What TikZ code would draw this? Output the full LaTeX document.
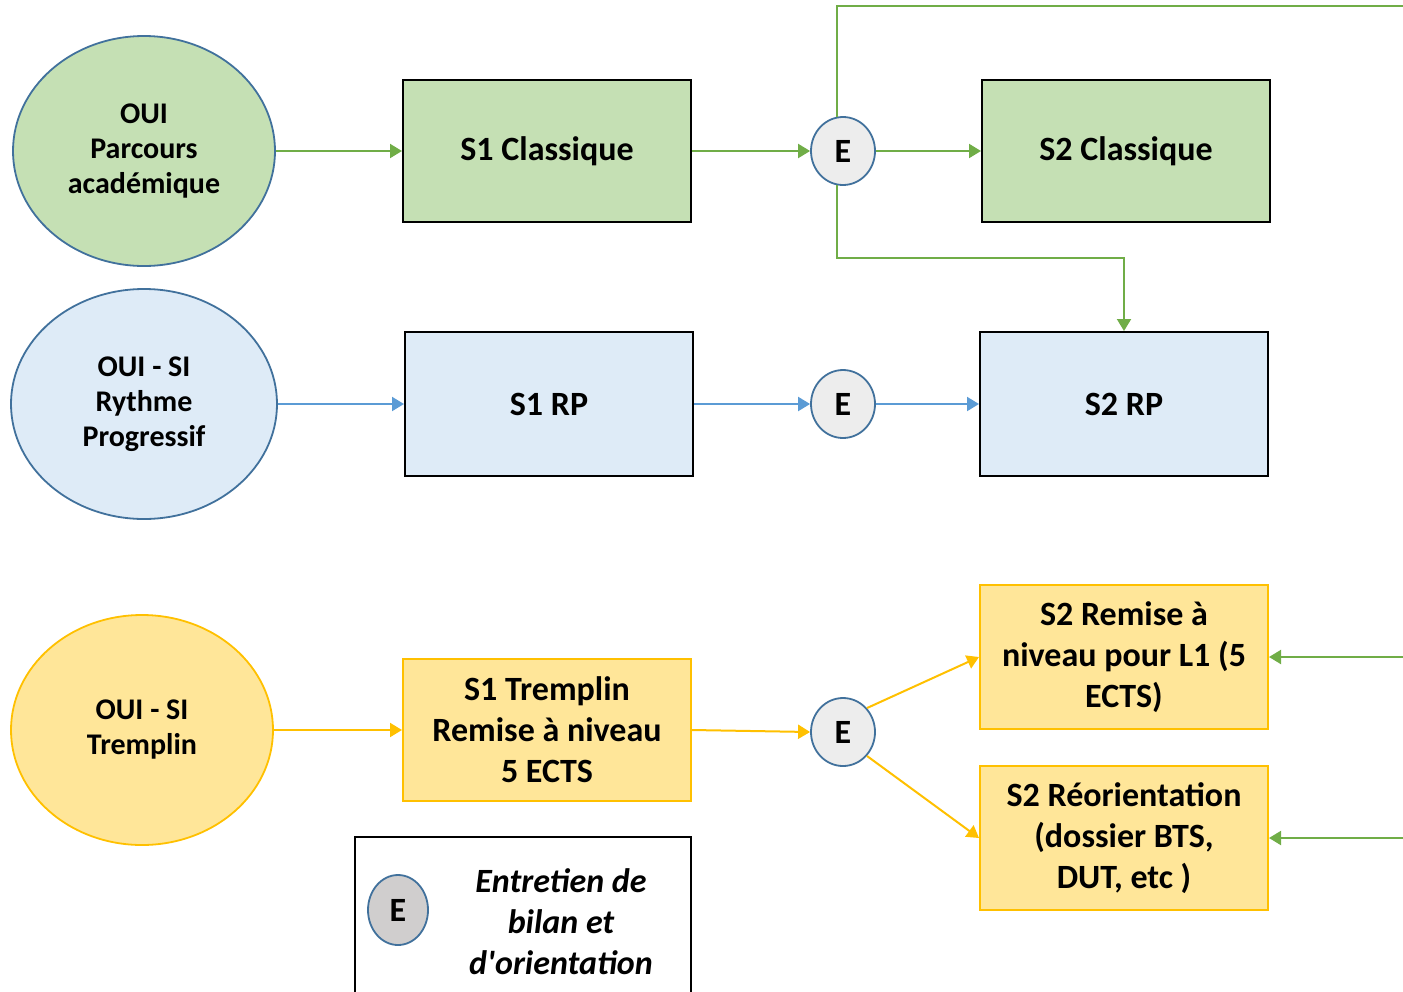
\documentclass[tikz,border=0pt]{standalone}
\usepackage{fontspec}
\setmainfont{Carlito}
\usetikzlibrary{arrows.meta,shapes.geometric}

\definecolor{vertclair}{HTML}{C5E0B4}
\definecolor{vert}{HTML}{70AD47}
\definecolor{bleuclair}{HTML}{DEEBF7}
\definecolor{bleu}{HTML}{5B9BD5}
\definecolor{bleufonce}{HTML}{41719C}
\definecolor{jauneclair}{HTML}{FFE699}
\definecolor{jaune}{HTML}{FFC000}
\definecolor{grisclair}{HTML}{EDEDED}
\definecolor{gris}{HTML}{D0CECE}

\tikzset{
	profil/.style={ellipse,draw=bleufonce,line width=0.9pt,minimum width=131pt,minimum height=115pt,inner sep=0pt,align=center,font=\fontsize{15}{17.5}\selectfont\bfseries},
	semestre/.style={rectangle,draw=black,line width=1pt,minimum width=144pt,minimum height=72pt,inner sep=0pt,align=center,font=\fontsize{17}{20.5}\selectfont\bfseries},
	entretien/.style={ellipse,draw=bleufonce,fill=grisclair,line width=0.9pt,minimum width=32pt,minimum height=34pt,inner sep=0pt,font=\fontsize{17}{20}\selectfont\bfseries},
	fleche/.style={line width=1pt,-{Triangle[length=6pt,width=7pt]}}
}

\begin{document}
\begin{tikzpicture}[x=0.5pt,y=-0.5pt]
	\useasboundingbox (0,0) rectangle (1403,991);
	\clip (0,0) rectangle (1403,991);
	
	% parcours academique
	\node[profil,fill=vertclair] (oui) at (144,151) {OUI\\Parcours\\académique};
	\node[semestre,fill=vertclair,minimum height=71pt] (s1c) at (547,151) {S1 Classique};
	\node[entretien] (e1) at (843,151) {E};
	\node[semestre,fill=vertclair,minimum height=71pt] (s2c) at (1126,151) {S2 Classique};
	
	% rythme progressif
	\node[profil,fill=bleuclair,minimum width=133pt] (rp) at (144,404) {OUI - SI\\Rythme\\Progressif};
	\node[semestre,fill=bleuclair] (s1rp) at (549,404) {S1 RP};
	\node[entretien] (e2) at (843,404) {E};
	\node[semestre,fill=bleuclair] (s2rp) at (1124,404) {S2 RP};
	
	% tremplin
	\node[profil,fill=jauneclair,draw=jaune] (tremplin) at (142,730) {OUI - SI\\Tremplin};
	\node[semestre,fill=jauneclair,draw=jaune,minimum height=71pt] (s1t) at (547,730) {S1 Tremplin\\Remise à niveau\\5 ECTS};
	\node[entretien] (e3) at (843,732) {E};
	\node[semestre,fill=jauneclair,draw=jaune] (s2rem) at (1124,657) {S2 Remise à\\niveau pour L1 (5\\ECTS)};
	\node[semestre,fill=jauneclair,draw=jaune] (s2reo) at (1124,838) {S2 Réorientation\\(dossier BTS,\\DUT, etc )};
	
	% legende
	\node[draw=black,line width=0.8pt,fill=white,minimum width=168pt,minimum height=90pt,inner sep=0pt] (legende) at (523,927) {};
	\node[entretien,fill=gris,minimum width=30pt,minimum height=35pt] (eleg) at (398,910) {E};
	\node[align=center,font=\fontsize{17}{20.5}\selectfont\bfseries\itshape] (texteleg) at (561,922) {Entretien de\\bilan et\\d\textquotesingle orientation};
	
	\coordinate (haut) at (1403,6);
	\coordinate (coude) at (1124,258);
	\coordinate (bord1) at (1403,657);
	\coordinate (bord2) at (1403,838);
	
	\draw[fleche,vert] (oui.east) -- (s1c.west);
	\draw[fleche,vert] (s1c.east) -- (e1.west);
	\draw[fleche,vert] (e1.east) -- (s2c.west);
	\draw[line width=1pt,vert] (e1.100) |- (haut);
	\draw[fleche,vert] (e1.260) |- (coude) -- (s2rp.north);
	\draw[fleche,vert] (bord1) -- (s2rem.east);
	\draw[fleche,vert] (bord2) -- (s2reo.east);
	
	\draw[fleche,bleu] (rp.east) -- (s1rp.west);
	\draw[fleche,bleu] (s1rp.east) -- (e2.west);
	\draw[fleche,bleu] (e2.east) -- (s2rp.west);
	
	\draw[fleche,jaune] (tremplin.east) -- (s1t.west);
	\draw[fleche,jaune] (s1t.east) -- (e3.west);
	\draw[fleche,jaune] (e3.45) -- (s2rem.west);
	\draw[fleche,jaune] (e3.-45) -- (s2reo.west);
\end{tikzpicture}
\end{document}
